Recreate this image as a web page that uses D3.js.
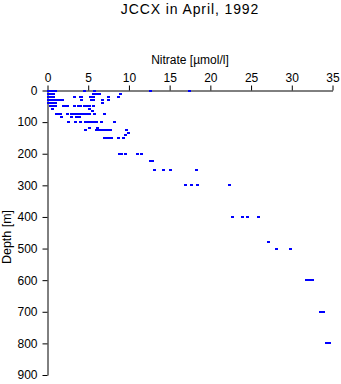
<!DOCTYPE html>
<html><head><meta charset="utf-8">
<script src="https://cdn.jsdelivr.net/npm/d3@7"></script>
<style>
body{margin:0;background:#fff;}
svg{display:block;font-family:"Liberation Sans",Arial,sans-serif;}
</style></head>
<body>
<svg id="chart" width="341" height="384"></svg>
<script>
const title = "JCCX in April, 1992";
const xLabel = "Nitrate [\u00b5mol/l]";
const yLabel = "Depth [m]";
const xTicks = [0,5,10,15,20,25,30,35];
const yTicks = [0,100,200,300,400,500,600,700,800,900];

// depth [m] of each sample
const depth = [
  0,0,0,0,0,0,0,0,
  10,10,10,10,10,10,10,10,
  20,20,20,20,20,20,20,20,20,20,20,
  30,30,30,30,30,30,30,30,30,30,30,30,
  40,40,40,40,40,
  50,50,50,50,50,50,50,50,50,50,50,50,50,50,
  60,60,
  65,
  75,75,75,75,75,75,75,75,75,75,75,75,75,75,
  85,85,85,85,
  100,100,100,100,100,100,100,100,100,100,100,
  118,118,
  125,125,125,125,125,125,125,125,125,
  135,
  142,
  150,150,150,150,150,150,
  200,200,200,200,200,
  223,223,
  250,250,250,250,
  300,300,300,300,
  400,400,400,400,
  480,
  500,500,
  600,600,600,600,
  700,700,700,
  800,800
];
// nitrate [µmol/l] of each sample
const nitrate = [
  0.1,0.4,0.7,1.0,4.6,5.8,12.7,17.4,
  0.1,0.4,0.7,5.6,5.9,6.2,6.4,9.0,
  0.1,0.4,0.7,3.3,4.0,4.2,5.3,5.5,5.7,7.5,8.7,
  0.1,0.4,0.7,1.0,1.3,1.6,1.8,4.2,5.4,5.7,6.7,7.5,
  0.1,0.4,0.7,1.0,6.7,
  0.4,0.7,1.0,2.0,2.3,2.5,3.3,3.8,4.0,4.5,4.8,5.1,5.2,5.7,
  0.6,5.1,
  5.5,
  1.1,1.4,1.6,2.5,3.0,3.3,3.6,3.9,4.2,4.5,4.8,5.1,5.8,7.0,
  1.7,3.0,3.5,3.9,
  2.6,3.4,4.1,4.7,5.0,5.3,5.6,5.9,6.0,6.6,8.2,
  5.2,6.1,
  4.7,6.0,6.3,6.6,6.9,7.2,7.5,7.7,9.7,
  10.0,
  9.6,
  7.0,7.3,7.6,7.9,8.7,9.3,
  8.8,9.1,9.6,11.1,11.5,
  12.6,12.9,
  13.1,14.3,15.1,18.3,
  16.9,17.7,18.4,22.3,
  22.7,24.0,24.6,25.9,
  27.1,
  28.1,29.9,
  31.8,32.1,32.3,32.5,
  33.5,33.8,33.9,
  34.3,34.6
];

const svg = d3.select("#chart");
const x = d3.scaleLinear().domain([0,35]).range([47.5,332.5]);
const y = d3.scaleLinear().domain([0,900]).range([90.5,375]);

svg.append("text").attr("x",190).attr("y",13.5).attr("text-anchor","middle")
  .attr("font-size",14).attr("letter-spacing","0.9px").text(title);

const gx = svg.append("g").attr("transform","translate(0,90.5)")
  .call(d3.axisTop(x).tickValues(xTicks).tickSize(5).tickSizeOuter(0).tickPadding(4));
const gy = svg.append("g").attr("transform","translate(47.5,0)")
  .call(d3.axisLeft(y).tickValues(yTicks).tickSize(5).tickSizeOuter(0).tickPadding(5));
[gx,gy].forEach(g=>{
  g.selectAll("text").attr("font-size",12).attr("fill","#000").attr("font-family","Liberation Sans, Arial, sans-serif");
  g.selectAll("line,path").attr("stroke","#000");
});

svg.append("text").attr("x",190).attr("y",64).attr("text-anchor","middle")
  .attr("font-size",12).text(xLabel);
svg.append("text").attr("transform","translate(11,237) rotate(-90)").attr("text-anchor","middle")
  .attr("font-size",12.5).text(yLabel);

const pts = depth.map((d,i)=>({d, n:nitrate[i]}));
svg.append("g").selectAll("rect").data(pts).join("rect")
  .attr("x",p=>Math.round(x(p.n)-1.5))
  .attr("y",p=>Math.round(y(p.d)-1))
  .attr("width",3).attr("height",2)
  .attr("fill","#0000ff");
</script>
</body></html>
